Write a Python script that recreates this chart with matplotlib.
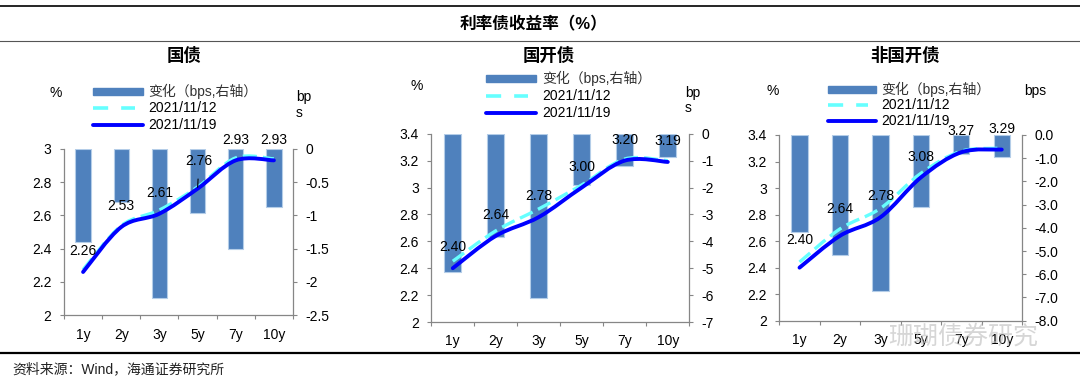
import numpy as np
import matplotlib
matplotlib.use('Agg')
from matplotlib import pyplot as plt
from matplotlib.path import Path
from matplotlib.patches import PathPatch, Rectangle
from matplotlib.lines import Line2D

plt.rcParams['font.family'] = ['Liberation Sans', 'Noto Sans CJK SC']
plt.rcParams['axes.unicode_minus'] = False

# 数据
tenors = ['1y', '2y', '3y', '5y', '7y', '10y']

gz_1119 = [2.26, 2.53, 2.61, 2.76, 2.93, 2.93]
gz_1112 = [2.274, 2.538, 2.632, 2.770, 2.945, 2.939]
gz_chg = [-1.40, -0.80, -2.24, -0.96, -1.50, -0.88]

gkz_1119 = [2.40, 2.64, 2.78, 3.00, 3.20, 3.19]
gkz_1112 = [2.452, 2.678, 2.841, 3.019, 3.212, 3.199]
gkz_chg = [-5.15, -3.84, -6.11, -1.91, -1.19, -0.88]

fgk_1119 = [2.40, 2.64, 2.78, 3.08, 3.27, 3.29]
fgk_1112 = [2.442, 2.692, 2.847, 3.111, 3.278, 3.300]
fgk_chg = [-4.19, -5.19, -6.70, -3.12, -0.82, -0.96]

BAR_C = '#4F81BD'
CYAN = '#66FFFF'
BLUE = '#0000FF'
GREY = '#868686'

W, H = 1080, 384
fig = plt.figure(figsize=(W / 100, H / 100), dpi=100)


def fx(x):
    return x / W


def fy(y):
    return 1 - y / H


def smooth(ax, xs, ys, **kw):
    # Excel 风格平滑线（Catmull-Rom 转三次贝塞尔）
    n = len(xs)
    verts = [(xs[0], ys[0])]
    codes = [Path.MOVETO]
    for i in range(n - 1):
        a = i - 1 if i > 0 else i
        d = i + 2 if i + 2 < n else i + 1
        c1 = (xs[i] + (xs[i + 1] - xs[a]) / 6, ys[i] + (ys[i + 1] - ys[a]) / 6)
        c2 = (xs[i + 1] - (xs[d] - xs[i]) / 6, ys[i + 1] - (ys[d] - ys[i]) / 6)
        verts += [c1, c2, (xs[i + 1], ys[i + 1])]
        codes += [Path.CURVE4] * 3
    ax.add_patch(PathPatch(Path(verts, codes), fill=False, **kw))


def panel(rect, title, title_x, y1112, y1119, chg, ylim, yticks, rlim, rticks, rfmt,
          leg, pct, bps, bps_lines, label_off):
    ax = fig.add_axes(rect)
    ax2 = ax.twinx()
    ax.set_zorder(ax2.get_zorder() + 1)
    ax.patch.set_visible(False)
    x = np.arange(len(tenors))

    ax2.bar(x, chg, width=0.4, color=BAR_C, edgecolor='#B4CDE8', linewidth=0.8)
    ax2.set_ylim(*rlim)
    ax2.set_yticks(rticks)
    ax2.set_yticklabels([rfmt.format(v) for v in rticks])

    smooth(ax, x, y1112, edgecolor=CYAN, lw=2.4, linestyle=(0, (4.2, 1.8)), zorder=3)
    smooth(ax, x, y1119, edgecolor=BLUE, lw=2.8, capstyle='round', zorder=4)
    for i, v in enumerate(y1119):
        off = label_off.get(i, 15)
        if isinstance(off, tuple):
            ax.annotate('%.2f' % v, (x[i], v), xytext=off, textcoords='offset points',
                        ha='center', va='center', fontsize=10, zorder=5,
                        arrowprops=dict(arrowstyle='-', color='black', lw=0.8,
                                        shrinkA=6, shrinkB=1))
        else:
            ax.annotate('%.2f' % v, (x[i], v), xytext=(0, off), textcoords='offset points',
                        ha='center', va='center', fontsize=10, zorder=5)

    ax.set_ylim(*ylim)
    ax.set_yticks(yticks)
    ax.set_yticklabels(['%g' % round(v, 2) for v in yticks])
    ax.set_xlim(-0.5, len(tenors) - 0.5)
    ax.set_xticks(np.arange(-0.5, len(tenors), 1))
    ax.set_xticklabels([])
    ax.set_xticks(x, minor=True)
    ax.set_xticklabels(tenors, minor=True)
    ax.tick_params(axis='x', which='minor', length=0, pad=9, labelsize=10)
    ax.tick_params(axis='x', which='major', length=3, color=GREY, width=0.8)
    ax.tick_params(axis='y', length=3, color=GREY, width=0.8, pad=6, labelsize=10)
    ax2.tick_params(axis='y', length=3, color=GREY, width=0.8, pad=6, labelsize=10)
    for s in ['top', 'right']:
        ax.spines[s].set_visible(False)
    for s in ['top', 'left', 'bottom']:
        ax2.spines[s].set_visible(False)
    for s in ['left', 'bottom']:
        ax.spines[s].set_color(GREY)
        ax.spines[s].set_linewidth(0.9)
    ax2.spines['right'].set_color(GREY)
    ax2.spines['right'].set_linewidth(0.9)

    fig.text(fx(title_x), fy(55), title, ha='center', va='center', fontsize=12.5,
             fontweight='bold')

    # 图例
    lx0, lx1, ly, dy, tx = leg
    fig.add_artist(Rectangle((fx(lx0), fy(ly + 3.5)), fx(lx1 - lx0), 7 / H,
                             transform=fig.transFigure, color=BAR_C))
    fig.add_artist(Line2D([fx(lx0), fx(lx1 - 8)], [fy(ly + dy)] * 2, transform=fig.transFigure,
                          color=CYAN, lw=2.6, linestyle=(0, (4.2, 3.6))))
    fig.add_artist(Line2D([fx(lx0), fx(lx1)], [fy(ly + 2 * dy)] * 2, transform=fig.transFigure,
                          color=BLUE, lw=2.8, solid_capstyle='round'))
    fig.text(fx(tx), fy(ly), '变化（bps,右轴）', va='center', fontsize=10, color='#333333')
    fig.text(fx(tx), fy(ly + dy), '2021/11/12', va='center', fontsize=10)
    fig.text(fx(tx), fy(ly + 2 * dy), '2021/11/19', va='center', fontsize=10)

    fig.text(fx(pct[0]), fy(pct[1]), '%', ha='center', va='center', fontsize=10)
    for t, (bx, by) in zip(bps, bps_lines):
        fig.text(fx(bx), fy(by), t, ha='left', va='center', fontsize=10)
    return ax


panel([64 / W, 1 - 315.3 / H, 229 / W, 166.6 / H], '国债', 184,
      gz_1112, gz_1119, gz_chg, (2, 3), np.arange(2, 3.01, 0.2),
      (-2.5, 0), np.arange(-2.5, 0.01, 0.5)[::-1], '{:g}',
      (93, 143, 91, 17, 148), (56, 93), ['bp', 's'], [(296, 97), (296, 113)],
      {3: (1, 20)})

panel([431.3 / W, 1 - 322 / H, 258 / W, 188.3 / H], '国开债', 549,
      gkz_1112, gkz_1119, gkz_chg, (2, 3.4), np.arange(2, 3.41, 0.2),
      (-7, 0), np.arange(-7, 0.1, 1)[::-1], '{:g}',
      (486, 536, 78.7, 17, 542), (417, 86), ['bp', 's'], [(685, 93), (685, 108)],
      {})

panel([779.3 / W, 1 - 320.7 / H, 242.7 / W, 185.7 / H], '非国开债', 905,
      fgk_1112, fgk_1119, fgk_chg, (2, 3.4), np.arange(2, 3.41, 0.2),
      (-8, 0), np.arange(-8, 0.1, 1)[::-1], '{:.1f}',
      (828, 876, 89.3, 16, 881), (773, 91), ['bps'], [(1024, 91)],
      {0: 20, 1: 19})

# 标题与分隔线
fig.text(fx(534), fy(24), '利率债收益率（%）', ha='center', va='center', fontsize=12,
         fontweight='bold')
fig.add_artist(Line2D([0, 1], [fy(6)] * 2, transform=fig.transFigure, color='black', lw=1.2))
fig.add_artist(Line2D([0, 1], [fy(41.3)] * 2, transform=fig.transFigure, color='#555555', lw=0.8))
fig.add_artist(Line2D([0, 1], [fy(353)] * 2, transform=fig.transFigure, color='black', lw=1.6))
fig.text(fx(12), fy(369), '资料来源：Wind，海通证券研究所', va='center', fontsize=10,
         color='#222222')
# 水印（原图即压在横轴标签上）
fig.text(fx(963), fy(337), '珊瑚债券研究', ha='center', va='center', fontsize=18,
         color='#BBBBBB', alpha=0.6)

fig.savefig('out.png', dpi=100)
